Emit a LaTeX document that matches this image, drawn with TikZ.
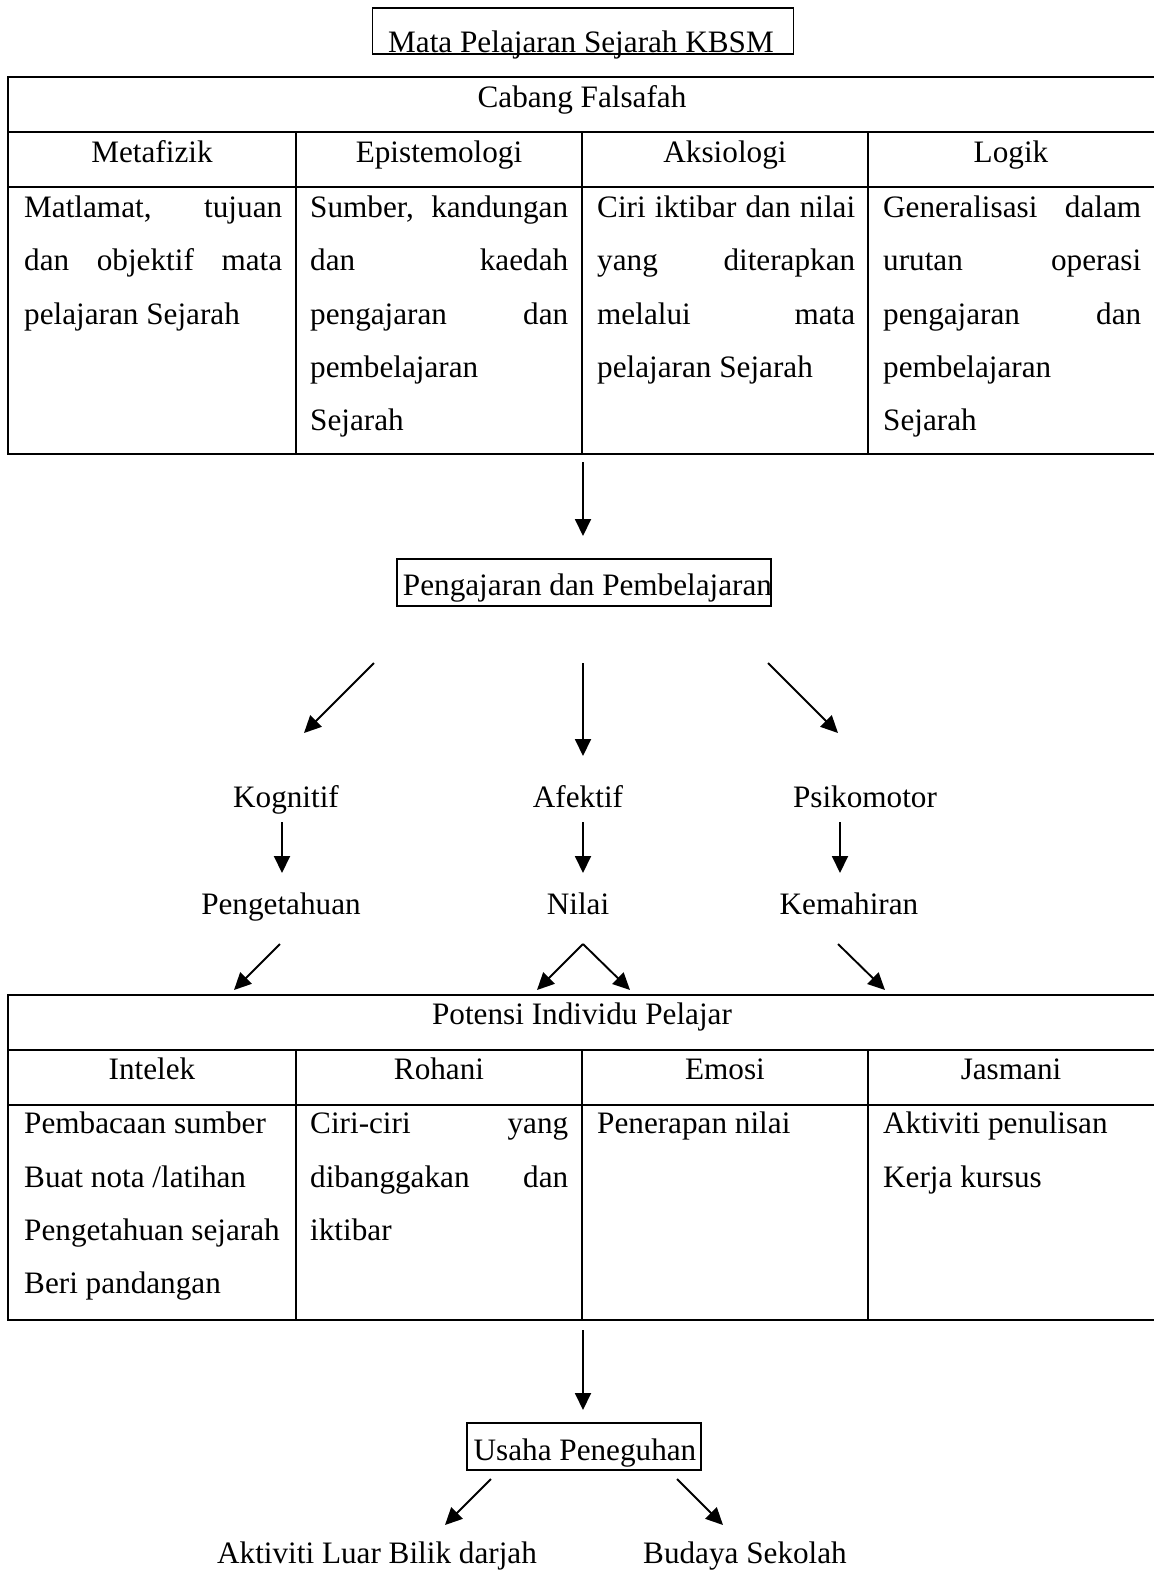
\documentclass[tikz,border=0pt]{standalone}
\usepackage{fontspec}
\setmainfont{Liberation Serif}
\usetikzlibrary{arrows.meta}
\tikzset{
 txt/.style={font=\fontsize{31.2}{36}\selectfont, inner sep=0pt, anchor=base, yshift=-2pt},
 ltxt/.style={txt, anchor=base west},
 arr/.style={line width=1.9pt, -{Triangle[length=17pt,width=16pt]}},
 rulel/.style={line width=2pt},
 boxed/.style={draw, line width=1.6pt, inner sep=0pt},
}
\newcommand{\jl}[1]{\makebox[258pt][s]{#1}}
\begin{document}
\begin{tikzpicture}[x=1pt,y=-1pt]
\useasboundingbox (0,0) rectangle (1154,1572);
\fill[white] (0,0) rectangle (1154,1572);

% title
\node[boxed, minimum width=421pt, minimum height=46pt] (topbox) at (583,31) {};
\node[txt] (title) at (581,50) {Mata Pelajaran Sejarah KBSM};

% table 1
\draw[rulel] (1160,77) -- (8,77) -- (8,454) -- (1160,454);
\draw[rulel] (8,132) -- (1160,132);
\draw[rulel] (8,187) -- (1160,187);
\foreach \x in {296,582,868} \draw[rulel] (\x,132) -- (\x,454);
\node[txt] (cabang) at (582,105) {Cabang Falsafah};
\node[txt] (h1) at (152,160) {Metafizik};
\node[txt] (h2) at (439,160) {Epistemologi};
\node[txt] (h3) at (725,160) {Aksiologi};
\node[txt] (h4) at (1011,160) {Logik};

\node[ltxt] (m1) at (24,215) {\jl{Matlamat, tujuan}};
\node[ltxt] (m2) at (24,268.5) {\jl{dan objektif mata}};
\node[ltxt] (m3) at (24,322) {pelajaran Sejarah};

\node[ltxt] (e1) at (310,215) {\jl{Sumber, kandungan}};
\node[ltxt] (e2) at (310,268.5) {\jl{dan kaedah}};
\node[ltxt] (e3) at (310,322) {\jl{pengajaran dan}};
\node[ltxt] (e4) at (310,375) {pembelajaran};
\node[ltxt] (e5) at (310,428.5) {Sejarah};

\node[ltxt] (a1) at (597,215) {\jl{Ciri iktibar dan nilai}};
\node[ltxt] (a2) at (597,268.5) {\jl{yang diterapkan}};
\node[ltxt] (a3) at (597,322) {\jl{melalui mata}};
\node[ltxt] (a4) at (597,375) {pelajaran Sejarah};

\node[ltxt] (l1) at (883,215) {\jl{Generalisasi dalam}};
\node[ltxt] (l2) at (883,268.5) {\jl{urutan operasi}};
\node[ltxt] (l3) at (883,322) {\jl{pengajaran dan}};
\node[ltxt] (l4) at (883,375) {pembelajaran};
\node[ltxt] (l5) at (883,428.5) {Sejarah};

% arrow to P&P
\coordinate (c1s) at (583,462);
\coordinate (c1e) at (583,536);
\draw[arr] (c1s) -- (c1e);

\node[boxed, minimum width=374pt, minimum height=47pt] (pnpbox) at (584,582.5) {};
\node[txt] (pnp) at (587.5,593) {Pengajaran dan Pembelajaran};

\coordinate (d1s) at (374,663); \coordinate (d1e) at (304,733);
\coordinate (d2s) at (583,663); \coordinate (d2e) at (583,756);
\coordinate (d3s) at (768,663); \coordinate (d3e) at (838,733);
\draw[arr] (d1s) -- (d1e);
\draw[arr] (d2s) -- (d2e);
\draw[arr] (d3s) -- (d3e);

\node[txt] (kog) at (286,805) {Kognitif};
\node[txt] (afe) at (578,805) {Afektif};
\node[txt] (psi) at (865,805) {Psikomotor};

\coordinate (e1s) at (282,822); \coordinate (e1e) at (282,873);
\coordinate (e2s) at (583,822); \coordinate (e2e) at (583,873);
\coordinate (e3s) at (840,822); \coordinate (e3e) at (840,873);
\draw[arr] (e1s) -- (e1e);
\draw[arr] (e2s) -- (e2e);
\draw[arr] (e3s) -- (e3e);

\node[txt] (pen) at (281,912) {Pengetahuan};
\node[txt] (nil) at (578,912) {Nilai};
\node[txt] (kem) at (849,912) {Kemahiran};

\coordinate (f1s) at (280,944); \coordinate (f1e) at (234,990);
\coordinate (f2s) at (583,944); \coordinate (f2e) at (537,990);
\coordinate (f3e) at (630,990);
\coordinate (f4s) at (838,944); \coordinate (f4e) at (885,990);
\draw[arr] (f1s) -- (f1e);
\draw[arr] (f2s) -- (f2e);
\draw[arr] (f2s) -- (f3e);
\draw[arr] (f4s) -- (f4e);

% table 2
\draw[rulel] (1160,995) -- (8,995) -- (8,1320) -- (1160,1320);
\draw[rulel] (8,1050) -- (1160,1050);
\draw[rulel] (8,1105) -- (1160,1105);
\foreach \x in {296,582,868} \draw[rulel] (\x,1050) -- (\x,1320);
\node[txt] (potensi) at (582,1022) {Potensi Individu Pelajar};
\node[txt] (g1) at (152,1077) {Intelek};
\node[txt] (g2) at (439,1077) {Rohani};
\node[txt] (g3) at (725,1077) {Emosi};
\node[txt] (g4) at (1011,1077) {Jasmani};

\node[ltxt] (i1) at (24,1131) {Pembacaan sumber};
\node[ltxt] (i2) at (24,1185) {Buat nota /latihan};
\node[ltxt] (i3) at (24,1238) {Pengetahuan sejarah};
\node[ltxt] (i4) at (24,1291) {Beri pandangan};

\node[ltxt] (r1) at (310,1131) {\jl{Ciri-ciri yang}};
\node[ltxt] (r2) at (310,1185) {\jl{dibanggakan dan}};
\node[ltxt] (r3) at (310,1238) {iktibar};

\node[ltxt] (em1) at (597,1131) {Penerapan nilai};

\node[ltxt] (j1) at (883,1131) {Aktiviti penulisan};
\node[ltxt] (j2) at (883,1185) {Kerja kursus};

\coordinate (g1s) at (583,1330); \coordinate (g1e) at (583,1410);
\draw[arr] (g1s) -- (g1e);

\node[boxed, minimum width=234pt, minimum height=47pt] (usbox) at (584,1446.5) {};
\node[txt] (usaha) at (585,1458) {Usaha Peneguhan};

\coordinate (h1s) at (491,1479); \coordinate (h1e) at (445,1525);
\coordinate (h2s) at (677,1479); \coordinate (h2e) at (723,1525);
\draw[arr] (h1s) -- (h1e);
\draw[arr] (h2s) -- (h2e);

\node[txt] (luar) at (377,1561) {Aktiviti Luar Bilik darjah};
\node[txt] (budaya) at (745,1561) {Budaya Sekolah};
\end{tikzpicture}
\end{document}
